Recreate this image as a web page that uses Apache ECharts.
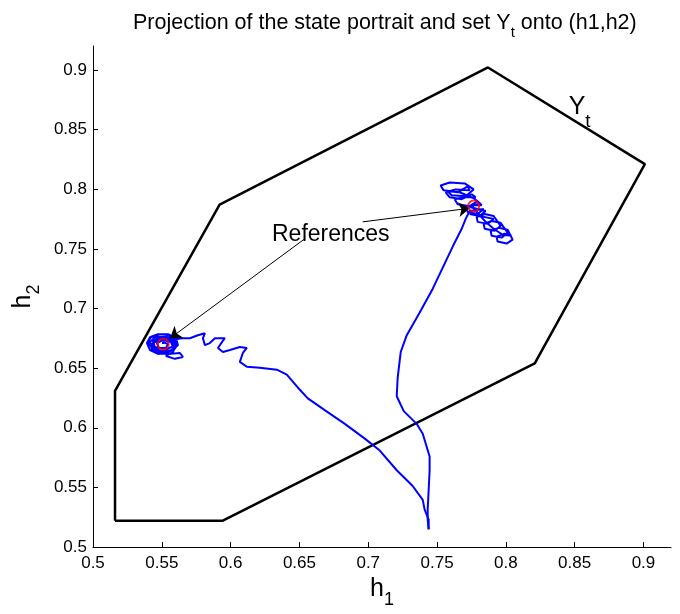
<!DOCTYPE html>
<html>
<head>
<meta charset="utf-8">
<script src="https://cdn.jsdelivr.net/npm/echarts@6/dist/echarts.min.js"></script>
<style>
  html, body { margin: 0; padding: 0; background: #fff; }
  #chart { width: 680px; height: 614px; }
</style>
</head>
<body>
<div id="chart"></div>
<script>
// tick values on both axes
const xTicks = [0.5, 0.55, 0.6, 0.65, 0.7, 0.75, 0.8, 0.85, 0.9];
const yTicks = [0.5, 0.55, 0.6, 0.65, 0.7, 0.75, 0.8, 0.85, 0.9];

// polygon of set Y_t (h1, h2), closed
const setYt = [
  [0.516, 0.522], [0.594, 0.522], [0.821, 0.654], [0.901, 0.821],
  [0.787, 0.902], [0.592, 0.787], [0.516, 0.631], [0.516, 0.522]
];

// trajectory going to the left reference
const pathLeft = [
  [0.7439, 0.5149], [0.7439, 0.5231], [0.7410, 0.5314], [0.7396, 0.5396],
  [0.7323, 0.5512], [0.7207, 0.5644], [0.7084, 0.5809], [0.6975, 0.5909],
  [0.6830, 0.6033], [0.6684, 0.6148], [0.6561, 0.6247], [0.6488, 0.6338],
  [0.6408, 0.6446], [0.6336, 0.6487], [0.6212, 0.6503], [0.6118, 0.6512],
  [0.6067, 0.6553], [0.6089, 0.6627], [0.6118, 0.6669], [0.6067, 0.6677],
  [0.5995, 0.6652], [0.5944, 0.6635], [0.5908, 0.6669], [0.5937, 0.6718],
  [0.5958, 0.6751], [0.5886, 0.6751], [0.5849, 0.6710], [0.5813, 0.6693],
  [0.5799, 0.6751], [0.5813, 0.6792], [0.5762, 0.6776], [0.5704, 0.6751],
  [0.5646, 0.6751], [0.5603, 0.6743]
];
const clusterLeft = [
  [0.5559, 0.6776], [0.5486, 0.6784], [0.5421, 0.6759], [0.5399, 0.6718],
  [0.5428, 0.6669], [0.5501, 0.6644], [0.5588, 0.6652], [0.5617, 0.6702],
  [0.5574, 0.6759], [0.5486, 0.6759], [0.5436, 0.6726], [0.5450, 0.6677],
  [0.5530, 0.6660], [0.5595, 0.6685], [0.5566, 0.6735], [0.5486, 0.6743],
  [0.5414, 0.6693], [0.5457, 0.6635], [0.5545, 0.6619], [0.5632, 0.6627],
  [0.5653, 0.6594], [0.5595, 0.6578], [0.5530, 0.6602], [0.5581, 0.6635],
  [0.5603, 0.6693], [0.5581, 0.6743], [0.5523, 0.6768], [0.5450, 0.6759],
  [0.5414, 0.6718], [0.5428, 0.6660], [0.5486, 0.6635], [0.5559, 0.6644],
  [0.5603, 0.6677], [0.5588, 0.6726], [0.5530, 0.6751], [0.5465, 0.6743],
  [0.5428, 0.6702], [0.5450, 0.6652], [0.5508, 0.6635], [0.5574, 0.6652],
  [0.5617, 0.6693], [0.5603, 0.6751], [0.5545, 0.6784], [0.5472, 0.6784],
  [0.5414, 0.6759], [0.5392, 0.6710], [0.5414, 0.6652], [0.5472, 0.6619],
  [0.5537, 0.6627], [0.5588, 0.6660], [0.5566, 0.6718], [0.5508, 0.6735],
  [0.5465, 0.6710], [0.5479, 0.6669], [0.5530, 0.6669], [0.5545, 0.6702],
  [0.5508, 0.6718], [0.5508, 0.6702]
];

// trajectory going to the right reference
const pathRight = [
  [0.7439, 0.5149], [0.7432, 0.5231], [0.7432, 0.5314], [0.7439, 0.5479],
  [0.7446, 0.5644], [0.7446, 0.5760], [0.7396, 0.5950], [0.7352, 0.6033],
  [0.7258, 0.6140], [0.7207, 0.6264], [0.7214, 0.6421], [0.7236, 0.6635],
  [0.7280, 0.6776], [0.7374, 0.6966], [0.7468, 0.7164], [0.7614, 0.7519],
  [0.7679, 0.7668], [0.7708, 0.7751], [0.7737, 0.7817]
];
const clusterRight = [
  [0.7839, 0.7833], [0.7795, 0.7792], [0.7723, 0.7808], [0.7708, 0.7850], [0.7766, 0.7866], [0.7824, 0.7866],
  [0.7795, 0.7899], [0.7737, 0.7858], [0.7650, 0.7874], [0.7628, 0.7916], [0.7693, 0.7932], [0.7781, 0.7932],
  [0.7752, 0.7957], [0.7679, 0.7916], [0.7592, 0.7932], [0.7563, 0.7974], [0.7635, 0.7998], [0.7737, 0.7990],
  [0.7723, 0.8023], [0.7650, 0.7974], [0.7548, 0.7990], [0.7526, 0.8031], [0.7592, 0.8056], [0.7701, 0.8048],
  [0.7766, 0.7998], [0.7708, 0.7941], [0.7606, 0.7949], [0.7577, 0.7982], [0.7664, 0.7974], [0.7766, 0.7924],
  [0.7810, 0.7883], [0.7737, 0.7850], [0.7853, 0.7817], [0.7810, 0.7775], [0.7737, 0.7792],
  [0.7911, 0.7751], [0.7868, 0.7709], [0.7795, 0.7726], [0.7788, 0.7767], [0.7846, 0.7792], [0.7911, 0.7775],
  [0.7962, 0.7693], [0.7919, 0.7651], [0.7846, 0.7668], [0.7839, 0.7709], [0.7897, 0.7734], [0.7962, 0.7718],
  [0.8013, 0.7635], [0.7969, 0.7594], [0.7897, 0.7610], [0.7889, 0.7651], [0.7948, 0.7676], [0.8013, 0.7660],
  [0.8049, 0.7577], [0.8006, 0.7544], [0.7940, 0.7561], [0.7933, 0.7602], [0.7991, 0.7627], [0.8042, 0.7610],
  [0.7977, 0.7618], [0.7911, 0.7668], [0.7853, 0.7726], [0.7802, 0.7792], [0.7766, 0.7841], [0.7759, 0.7858]
];

// reference points (red circles)
const references = [[0.551, 0.670], [0.7766, 0.7858]];

// annotation arrows: start -> end
const arrowStarts = [[0.654, 0.7585], [0.696, 0.7726]];
const arrowEnds = [[0.556, 0.675], [0.7737, 0.784]];

// annotation anchors
const refLabelAt = [0.6728, 0.762];
const ytLabelAt = [0.8536, 0.8688];

const font = 'Liberation Sans, Arial, Helvetica, sans-serif';

const chart = echarts.init(document.getElementById('chart'), null, { renderer: 'canvas' });

const tickFmt = function (v) { return String(parseFloat(Number(v).toFixed(2))); };

function txt(size, extra) {
  return Object.assign({ fontSize: size, lineHeight: size, color: '#000', fontFamily: font, fontWeight: 'normal', verticalAlign: 'top' }, extra || {});
}

chart.setOption({
  animation: false,
  backgroundColor: '#fff',
  textStyle: { fontFamily: font, color: '#000' },
  title: {
    left: 133,
    top: 12,
    padding: 0,
    text: '{a|Projection of the state portrait and set Y}{s|t}{a| onto (h1,h2)}',
    textStyle: {
      fontWeight: 'normal',
      rich: {
        a: txt(21.5, { lineHeight: 24 }),
        s: txt(15, { padding: [13, 0, 0, 0] })
      }
    }
  },
  grid: { left: 93, right: 9, top: 46, bottom: 58 },
  xAxis: {
    type: 'value',
    min: 0.5,
    max: 0.92,
    interval: 0.05,
    name: '{h|h}{s|1}',
    nameLocation: 'middle',
    nameGap: 26,
    nameTextStyle: { rich: { h: txt(25), s: txt(18, { padding: [14, 0, 0, 0] }) } },
    axisLine: { show: true, onZero: false, lineStyle: { color: '#000', width: 1 } },
    axisTick: { show: true, inside: true, length: 5, customValues: xTicks, lineStyle: { color: '#000' } },
    axisLabel: { customValues: xTicks, formatter: tickFmt, color: '#000', fontSize: 17, margin: 8, fontFamily: font },
    splitLine: { show: false }
  },
  yAxis: {
    type: 'value',
    min: 0.5,
    max: 0.92,
    interval: 0.05,
    name: '{h|h}{s|2}',
    nameLocation: 'middle',
    nameGap: 50,
    nameTextStyle: { rich: { h: txt(25), s: txt(18, { padding: [14, 0, 0, 0] }) } },
    axisLine: { show: true, onZero: false, lineStyle: { color: '#000', width: 1 } },
    axisTick: { show: true, inside: true, length: 5, customValues: yTicks, lineStyle: { color: '#000' } },
    axisLabel: { customValues: yTicks, formatter: tickFmt, color: '#000', fontSize: 17, margin: 6, fontFamily: font },
    splitLine: { show: false }
  },
  series: [
    {
      name: 'Yt',
      type: 'line',
      data: setYt,
      symbol: 'none',
      lineStyle: { color: '#000', width: 2.5 },
      z: 2,
      silent: true
    },
    {
      name: 'left',
      type: 'line',
      data: pathLeft.concat(clusterLeft),
      symbol: 'none',
      lineStyle: { color: '#0000ff', width: 2 },
      z: 3,
      silent: true
    },
    {
      name: 'right',
      type: 'line',
      data: pathRight.concat(clusterRight),
      symbol: 'none',
      lineStyle: { color: '#0000ff', width: 2 },
      z: 3,
      silent: true
    },
    {
      name: 'arrows',
      type: 'lines',
      coordinateSystem: 'cartesian2d',
      symbol: ['none', 'arrow'],
      symbolSize: 11,
      lineStyle: { color: '#000', width: 1, opacity: 1 },
      data: arrowStarts.map(function (s, i) { return { coords: [s, arrowEnds[i]] }; }),
      z: 4,
      silent: true
    },
    {
      name: 'refs',
      type: 'scatter',
      data: references,
      symbol: 'circle',
      symbolSize: 11,
      itemStyle: { color: 'rgba(0,0,0,0)', borderColor: '#ff0000', borderWidth: 2 },
      z: 5,
      silent: true
    },
    {
      name: 'labels',
      type: 'scatter',
      symbolSize: 1,
      itemStyle: { color: 'rgba(0,0,0,0)' },
      z: 6,
      silent: true,
      data: [
        { value: refLabelAt, label: { formatter: 'References', fontSize: 23 } },
        {
          value: ytLabelAt,
          label: {
            formatter: '{y|Y}{t|t}',
            rich: { y: txt(25), t: txt(19, { padding: [18, 0, 0, 0] }) }
          }
        }
      ],
      label: { show: true, position: 'inside', color: '#000', textBorderWidth: 0, fontFamily: font, opacity: 1 }
    }
  ]
});
</script>
</body>
</html>
